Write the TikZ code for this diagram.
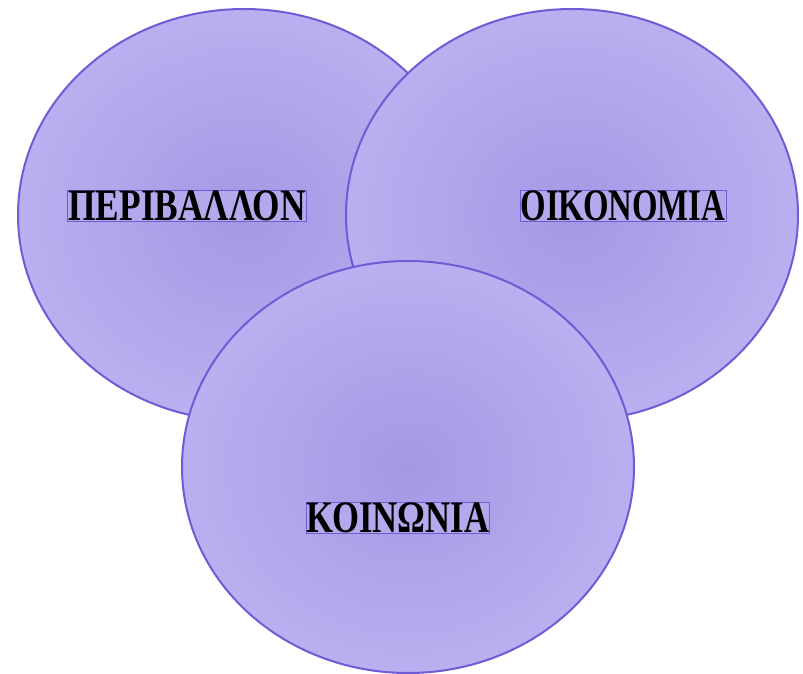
\documentclass[tikz,border=0pt]{standalone}
\usepackage{fontspec}
\setmainfont{Liberation Serif}
\usetikzlibrary{shapes.geometric}
\definecolor{ringline}{RGB}{110,92,214}
\definecolor{ringin}{RGB}{164,152,228}
\definecolor{ringout}{RGB}{184,176,240}
\definecolor{tagfill}{RGB}{178,170,236}

\begin{document}
\begin{tikzpicture}[x=1pt, y=-1pt,
    ring/.style={ellipse, draw=ringline, line width=2pt, inner color=ringin, outer color=ringout, minimum width=452pt, minimum height=412pt},
    tag/.style={draw=ringline, fill=tagfill, line width=0.8pt, inner sep=0.6pt, font=\bfseries\fontsize{45}{45}\selectfont}]
    \useasboundingbox (0,0) rectangle (803,674);
    \node[ring] (env) at (244,215) {};
    \node[ring] (econ) at (572,215) {};
    \node[ring] (soc) at (408,467) {};
    \node[tag] (envlbl) at (187,206) {\scalebox{0.785}[1]{ΠΕΡΙΒΑΛΛΟΝ}};
    \node[tag] (econlbl) at (623,206) {\scalebox{0.73}[1]{ΟΙΚΟΝΟΜΙΑ}};
    \node[tag] (soclbl) at (398,518) {\scalebox{0.77}[1]{ΚΟΙΝΩΝΙΑ}};
\end{tikzpicture}
\end{document}
